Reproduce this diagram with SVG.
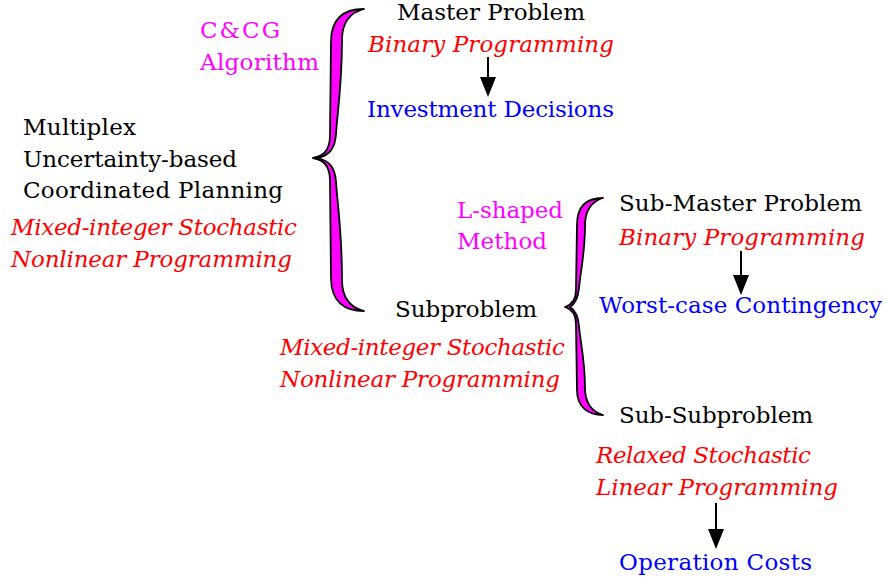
<svg xmlns="http://www.w3.org/2000/svg" width="886" height="583" viewBox="0 0 886 583">
<style>
text{font-family:"DejaVu Serif","Liberation Serif",serif;font-size:23px;}
.k{fill:#000}
.r{fill:#ff0000;font-style:italic}
.b{fill:#0000ff}
.m{fill:#ff00ff}
.brace{fill:#ff00ff;stroke:#000;stroke-width:1.8;stroke-linejoin:round}
.arr{stroke:#000;stroke-width:2;fill:none}
</style>
<defs>
<marker id="ah" markerWidth="10" markerHeight="8" refX="9" refY="4" orient="auto" markerUnits="strokeWidth">
<path d="M0,0 L10,4 L0,8 Z" fill="#000"/>
</marker>
</defs>
<rect width="886" height="583" fill="#fff"/>
<g id="root">
<text class="k" x="23" y="135" textLength="113">Multiplex</text>
<text class="k" x="23" y="167" textLength="214">Uncertainty-based</text>
<text class="k" x="23" y="198" textLength="260">Coordinated Planning</text>
<text class="r" x="11" y="235" textLength="286">Mixed-integer Stochastic</text>
<text class="r" x="11" y="267" textLength="281">Nonlinear Programming</text>
</g>
<g id="ccg-label">
<text class="m" x="200" y="38" textLength="80">C&amp;CG</text>
<text class="m" x="200" y="70" textLength="119">Algorithm</text>
</g>
<g id="master">
<text class="k" x="397" y="20" textLength="188">Master Problem</text>
<text class="r" x="368" y="52" textLength="246">Binary Programming</text>
</g>
<g id="investment">
<text class="b" x="367" y="117" textLength="247">Investment Decisions</text>
</g>
<g id="subproblem">
<text class="k" x="395" y="317" textLength="142">Subproblem</text>
<text class="r" x="280" y="355" textLength="285">Mixed-integer Stochastic</text>
<text class="r" x="280" y="387" textLength="280">Nonlinear Programming</text>
</g>
<g id="lshaped-label">
<text class="m" x="457" y="218" textLength="106">L-shaped</text>
<text class="m" x="457" y="249" textLength="90">Method</text>
</g>
<g id="submaster">
<text class="k" x="619" y="211" textLength="243">Sub-Master Problem</text>
<text class="r" x="619" y="245" textLength="246">Binary Programming</text>
</g>
<g id="worstcase">
<text class="b" x="599" y="313" textLength="283">Worst-case Contingency</text>
</g>
<g id="subsub">
<text class="k" x="619" y="423" textLength="194">Sub-Subproblem</text>
<text class="r" x="596" y="463" textLength="215">Relaxed Stochastic</text>
<text class="r" x="596" y="495" textLength="242">Linear Programming</text>
</g>
<g id="opcosts">
<text class="b" x="619" y="570" textLength="193">Operation Costs</text>
</g>
<g id="connectors">
<path class="brace" d="M364,9 C345,9 331,17 331,42 L330,135 C330,150 324,156 313,158 C324,160 330,166 330,181 L331,278 C331,302 345,311 364,311 C352,308 342,300 342,280 C342,230 337,200 336,182 C335,168 330,161 318,158 C330,155 335,148 336,134 C337,116 342,86 342,40 C342,20 352,12 364,9 Z"/>
<path class="brace" d="M603,198 C588,198 577,205 577,225 L576,290 C576,301 571,305 565,307 C571,309 576,313 576,324 L577,390 C577,407 588,415 603,415 C593,412 585,405 585,388 C585,360 580,340 579,326 C578,315 575,310 570,307 C575,304 578,299 579,288 C580,274 585,254 585,226 C585,209 593,201 603,198 Z"/>
<line class="arr" x1="488" y1="57" x2="488" y2="95" marker-end="url(#ah)"/>
<line class="arr" x1="741" y1="251" x2="741" y2="293" marker-end="url(#ah)"/>
<line class="arr" x1="716" y1="503" x2="716" y2="547" marker-end="url(#ah)"/>
</g>
</svg>
